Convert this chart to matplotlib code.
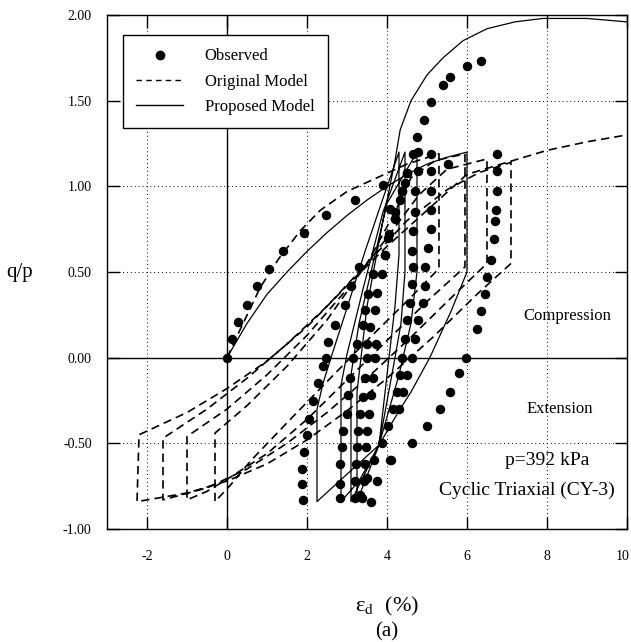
import numpy as np
import matplotlib
matplotlib.use('Agg')
from matplotlib import pyplot as plt
from matplotlib.lines import Line2D
from matplotlib.transforms import ScaledTranslation

plt.rcParams['font.family'] = ['Liberation Serif', 'DejaVu Serif']
plt.rcParams['mathtext.fontset'] = 'stix'

# ---- observed points ----
obs_init_x = [0, 0.12, 0.28, 0.49, 0.74, 1.05, 1.4, 1.93, 2.48, 3.2, 3.9, 4.5]
obs_init_y = [0, 0.11, 0.21, 0.31, 0.42, 0.52, 0.62, 0.73, 0.83, 0.92, 1.01, 1.08]

obs_c1_x = [1.9, 1.88, 1.88, 1.92, 2.0, 2.06, 2.16, 2.27, 2.4, 2.47, 2.53, 2.7, 2.95, 3.1, 3.3, 3.95, 4.03, 4.2, 4.07, 4.33, 4.38, 4.45]
obs_c1_y = [-0.83, -0.74, -0.65, -0.55, -0.45, -0.36, -0.25, -0.15, -0.05, 0.0, 0.09, 0.19, 0.31, 0.42, 0.53, 0.6, 0.7, 0.81, 0.87, 0.92, 0.97, 1.02]

obs_c2_x = [2.83, 2.83, 2.83, 2.88, 2.9, 3.0, 3.03, 3.08, 3.15, 3.25, 3.4, 3.45, 3.53, 3.65]
obs_c2_y = [-0.82, -0.74, -0.62, -0.52, -0.43, -0.33, -0.22, -0.12, 0.0, 0.08, 0.19, 0.28, 0.37, 0.49]

obs_c3_x = [3.2, 3.2, 3.23, 3.25, 3.28, 3.33, 3.4, 3.45, 3.5, 3.5, 3.57, 3.7, 3.75, 3.87, 3.95, 4.05, 4.2, 4.38, 4.5]
obs_c3_y = [-0.82, -0.72, -0.62, -0.52, -0.43, -0.33, -0.23, -0.12, 0.0, 0.08, 0.18, 0.28, 0.38, 0.49, 0.6, 0.72, 0.85, 0.97, 1.08]

obs_c4_x = [3.38, 3.42, 3.45, 3.47, 3.5, 3.55, 3.6, 3.65, 3.7, 3.72]
obs_c4_y = [-0.82, -0.72, -0.62, -0.52, -0.43, -0.33, -0.22, -0.12, 0.0, 0.08]

obs_c5_x = [3.33, 3.5, 3.68, 3.87, 4.03, 4.15, 4.25, 4.33, 4.37, 4.45, 4.5, 4.58, 4.63, 4.65, 4.62, 4.65, 4.7, 4.7, 4.78, 4.65]
obs_c5_y = [-0.8, -0.7, -0.6, -0.5, -0.4, -0.3, -0.2, -0.1, 0.0, 0.11, 0.22, 0.32, 0.43, 0.53, 0.62, 0.74, 0.85, 0.97, 1.09, 1.19]

obs_c6_x = [4.08, 4.3, 4.4, 4.5, 4.63, 4.7, 4.78, 4.9, 4.95, 4.95, 5.03, 5.1, 5.1, 5.1, 5.1, 5.1, 4.78]
obs_c6_y = [-0.6, -0.3, -0.2, -0.1, 0.0, 0.11, 0.22, 0.32, 0.42, 0.53, 0.64, 0.75, 0.86, 0.97, 1.09, 1.19, 1.2]

obs_unl_x = [5.53, 6.75, 6.75, 6.75, 6.73, 6.7, 6.67, 6.6, 6.5, 6.45, 6.35, 6.25, 5.98, 5.8, 5.58, 5.33, 5.0, 4.63, 4.1, 3.75, 3.6]
obs_unl_y = [1.13, 1.19, 1.09, 0.97, 0.86, 0.8, 0.69, 0.57, 0.47, 0.37, 0.27, 0.17, 0.0, -0.09, -0.2, -0.3, -0.4, -0.5, -0.6, -0.72, -0.84]

obs_fin_x = [4.76, 4.93, 5.1, 5.4, 5.58, 6.0, 6.35]
obs_fin_y = [1.29, 1.39, 1.49, 1.59, 1.64, 1.7, 1.73]

# ---- original model (dashed), one continuous path ----
orig_x = [0, 0.28, 0.83, 1.3, 1.83, 2.33, 3.0, 3.75, 4.5, 5.3,
          5.3, 4.5, 3.5, 2.5, 1.5, 0.6, 0.1, -0.3,
          -0.3, 0.5, 1.5, 2.5, 3.5, 4.2, 4.6, 5.2, 5.95,
          5.95, 5.1, 4.0, 3.0, 2.0, 1.0, 0.0, -0.5, -1.0,
          -1.0, 0.0, 1.0, 2.0, 3.0, 4.0, 4.8, 5.5, 6.5,
          6.5, 5.65, 4.6, 3.5, 2.5, 1.5, 0.5, -0.5, -1.6,
          -1.6, -0.5, 0.5, 1.5, 2.5, 3.5, 4.5, 5.5, 6.3, 7.1,
          7.1, 6.25, 5.15, 4.0, 3.0, 2.0, 1.0, 0.0, -1.0, -2.25,
          -2.2, -1.0, 0.0, 1.0, 2.0, 3.0, 4.0, 5.0, 6.0, 7.0, 8.0, 9.0, 10.0]
orig_y = [0, 0.14, 0.41, 0.58, 0.74, 0.86, 0.97, 1.05, 1.13, 1.19,
          0.52, 0.33, 0.1, -0.14, -0.38, -0.6, -0.74, -0.84,
          -0.44, -0.28, -0.05, 0.22, 0.55, 0.85, 1.05, 1.15, 1.19,
          0.53, 0.35, 0.1, -0.13, -0.36, -0.56, -0.71, -0.78, -0.83,
          -0.46, -0.3, -0.1, 0.13, 0.4, 0.7, 0.95, 1.1, 1.16,
          0.55, 0.36, 0.12, -0.12, -0.32, -0.5, -0.65, -0.76, -0.83,
          -0.47, -0.3, -0.12, 0.08, 0.3, 0.55, 0.8, 0.98, 1.08, 1.14,
          0.55, 0.37, 0.12, -0.12, -0.31, -0.48, -0.62, -0.72, -0.79, -0.84,
          -0.45, -0.32, -0.18, -0.02, 0.18, 0.42, 0.65, 0.86, 1.07, 1.14, 1.21, 1.26, 1.3]

# ---- proposed model (solid), one continuous path ----
prop_x = [0, 0.5, 1.0, 1.5, 2.0, 2.5, 3.0, 3.5, 4.0, 4.5, 5.0, 5.5, 6.0,
          6.0, 5.6, 5.07, 4.6, 4.3, 3.8, 3.0, 2.25,
          2.25, 2.4, 2.6, 3.0, 3.45, 3.9, 4.3,
          4.3, 4.2, 4.05, 3.8, 3.3, 2.85,
          2.85, 3.0, 3.4, 3.9, 4.45,
          4.45, 4.35, 4.2, 3.8, 3.1,
          3.1, 3.3, 3.7, 4.0, 4.75,
          4.75, 4.6, 4.3, 3.8, 3.25,
          3.25, 3.5, 3.9, 4.2, 4.33, 4.6, 5.0, 5.4, 5.9, 6.5, 7.2, 7.9, 9.0, 10.0]
prop_y = [0, 0.2, 0.37, 0.5, 0.62, 0.73, 0.83, 0.92, 1.0, 1.07, 1.13, 1.17, 1.2,
          0.5, 0.27, 0.0, -0.2, -0.31, -0.51, -0.68, -0.84,
          -0.3, -0.15, 0.0, 0.29, 0.62, 0.93, 1.2,
          0.6, 0.3, 0.0, -0.51, -0.72, -0.84,
          -0.16, 0.02, 0.4, 0.85, 1.2,
          0.5, 0.2, 0.0, -0.51, -0.84,
          -0.1, 0.2, 0.6, 0.9, 1.2,
          0.5, 0.2, -0.1, -0.51, -0.84,
          -0.2, 0.3, 0.8, 1.15, 1.33, 1.5, 1.65, 1.75, 1.85, 1.92, 1.96, 1.98, 1.98, 1.96]

x_ticks = [-2, 0, 2, 4, 6, 8, 10]
y_ticks = [-1.0, -0.5, 0.0, 0.5, 1.0, 1.5, 2.0]

fig = plt.figure(figsize=(6.31, 6.42), dpi=100)
ax = fig.add_axes([0.1696, 0.176, 0.824, 0.8006])

ax.plot(orig_x, orig_y, color='black', lw=1.2, linestyle=(0, (5, 3)), zorder=2)
ax.plot(prop_x, prop_y, color='black', lw=0.9, zorder=2)

groups = [(obs_init_x, obs_init_y), (obs_c1_x, obs_c1_y), (obs_c2_x, obs_c2_y),
          (obs_c3_x, obs_c3_y), (obs_c4_x, obs_c4_y), (obs_c5_x, obs_c5_y),
          (obs_c6_x, obs_c6_y), (obs_unl_x, obs_unl_y), (obs_fin_x, obs_fin_y)]
for gx, gy in groups:
    ax.plot(gx, gy, 'o', color='black', ms=5.8, zorder=3)

ax.axhline(0, color='black', lw=1.0, zorder=1)
ax.axvline(0, color='black', lw=1.0, zorder=1)

ax.set_xlim(-3, 10)
ax.set_ylim(-1.0, 2.0)
ax.set_xticks(x_ticks)
ax.set_yticks(y_ticks)
ax.set_xticklabels([str(v) for v in x_ticks])
ax.set_yticklabels(['%.2f' % v for v in y_ticks])
ax.grid(True, color='black', lw=0.7, linestyle=(0, (1, 3)))
ax.tick_params(direction='in', top=True, right=True, length=9, width=1.0,
               labelsize=10)
ax.tick_params(axis='x', pad=15)
ax.tick_params(axis='y', pad=11)
for s in ax.spines.values():
    s.set_linewidth(1.0)

# keep the last x label inside the picture
last = ax.get_xticklabels()[-1]
last.set_transform(last.get_transform() + ScaledTranslation(-4 / 100, 0, fig.dpi_scale_trans))

handles = [Line2D([], [], color='black', marker='o', ls='none', ms=6),
           Line2D([], [], color='black', lw=1.0, ls=(0, (4, 3))),
           Line2D([], [], color='black', lw=1.0)]
leg = ax.legend(handles, ['Observed', 'Original Model', 'Proposed Model'],
                loc='upper left', bbox_to_anchor=(0.031, 0.961), fontsize=12,
                frameon=True, fancybox=False, edgecolor='black', framealpha=1,
                handlelength=2.8, handletextpad=1.3, labelspacing=0.55,
                borderpad=0.8, borderaxespad=0)
leg.get_frame().set_linewidth(1.0)
leg.set_zorder(5)

ax.text(8.5, 0.245, 'Compression', fontsize=12, ha='center', va='center')
ax.text(8.32, -0.30, 'Extension', fontsize=12, ha='center', va='center')
ax.text(8.0, -0.60, 'p=392 kPa', fontsize=14, ha='center', va='center')
ax.text(7.5, -0.775, 'Cyclic Triaxial (CY-3)', fontsize=14, ha='center', va='center')

fig.text(20 / 631, 1 - 272 / 642, 'q/p', fontsize=15, ha='center', va='center')
fig.text(387 / 631, 1 - 606 / 642, 'ε$_{\\mathrm{d}}$  (%)', fontsize=16,
         ha='center', va='center')
fig.text(387 / 631, 1 - 632 / 642, '(a)', fontsize=15, ha='center', va='center')

fig.savefig('out.png', dpi=100)
